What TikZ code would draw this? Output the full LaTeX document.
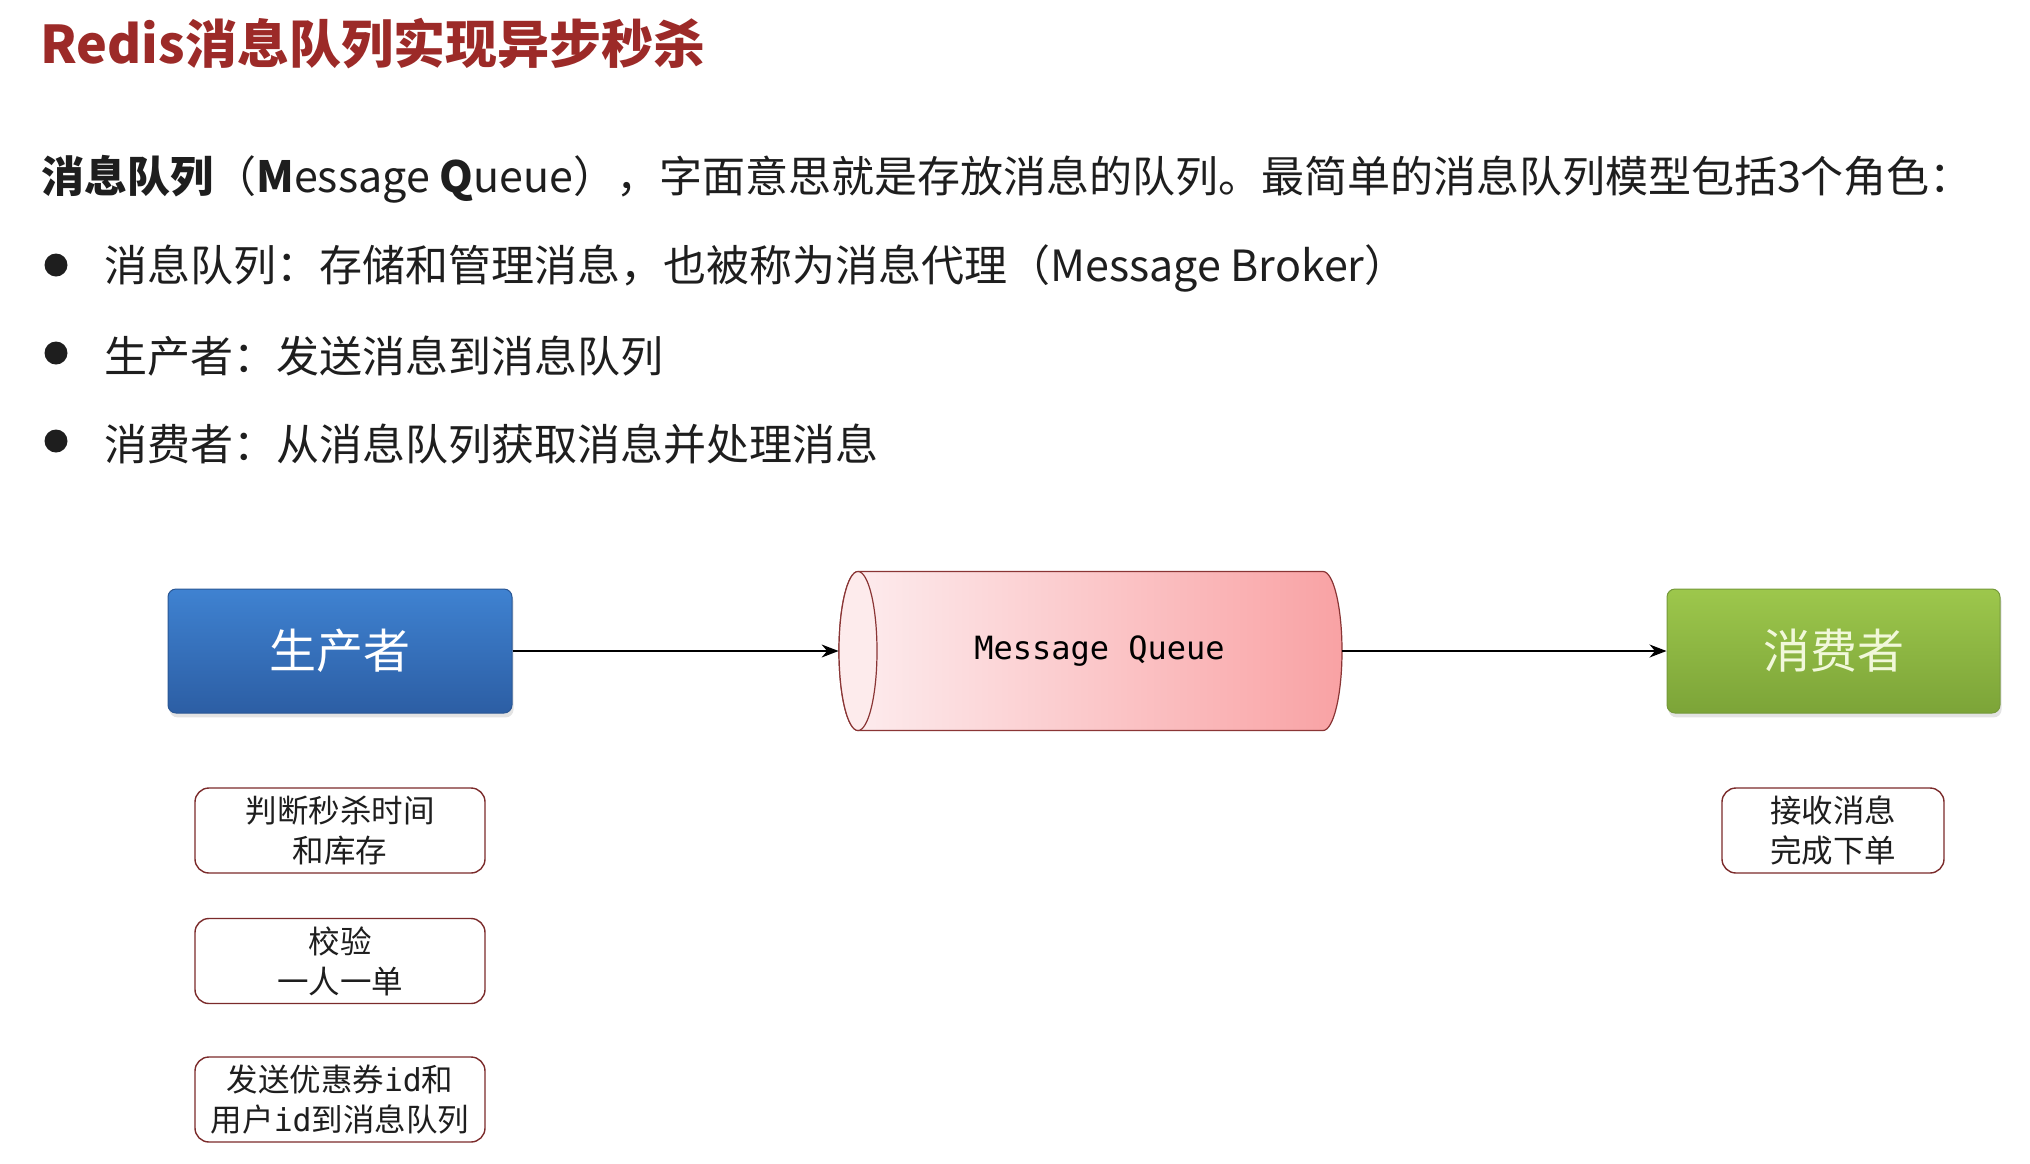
\documentclass[tikz,border=0pt]{standalone}
\usepackage{fontspec}
\setmainfont{Noto Sans CJK SC}
\newfontfamily\mqmono{DejaVu Sans Mono}
\usetikzlibrary{arrows.meta,shadows}
\definecolor{titlered}{HTML}{9C2A28}
\definecolor{bodytext}{HTML}{1E1E1E}
\definecolor{prodtop}{HTML}{3F82D1}
\definecolor{prodbot}{HTML}{2C5EA4}
\definecolor{prodborder}{HTML}{2A5794}
\definecolor{constop}{HTML}{9DC74C}
\definecolor{consbot}{HTML}{7CA438}
\definecolor{consborder}{HTML}{75993A}
\definecolor{constext}{HTML}{F1F8DA}
\definecolor{mqleft}{HTML}{FDEEF0}
\definecolor{mqright}{HTML}{F9A2A4}
\definecolor{mqend}{HTML}{FDEBEC}
\definecolor{mqborder}{HTML}{8A3535}
\definecolor{boxred}{HTML}{7B2B2B}
\tikzset{
  line1/.style={anchor=west, inner sep=0pt, text=bodytext, font=\fontsize{21.5}{26}\selectfont},
  bulletdot/.style={circle, fill=bodytext, minimum size=11.5pt, inner sep=0pt},
  rolebox/.style={rounded corners=4pt, minimum width=172pt, minimum height=62pt, inner sep=0pt,
    font=\fontsize{23.5}{28}\selectfont, line width=0.5pt,
    drop shadow={opacity=0.22, shadow xshift=0.8pt, shadow yshift=-2.2pt}},
  stepbox/.style={draw=boxred, line width=0.7pt, rounded corners=7pt, fill=white,
    minimum width=145pt, minimum height=42.5pt, inner sep=0pt, align=center,
    text=bodytext, font=\fontsize{15.75}{20}\selectfont},
  flowarrow/.style={-{Stealth[length=8.5pt,width=6.5pt]}, line width=0.7pt, black}
}
\begin{document}
\begin{tikzpicture}[x=0.5pt,y=-0.5pt]
\useasboundingbox[fill=white] (0,0) rectangle (2030,1163);

% title
\node[anchor=west, inner sep=0pt, text=titlered, font=\fontsize{26}{30}\bfseries] (title) at (40,44) {Redis消息队列实现异步秒杀};

% intro line
\node[line1] (intro) at (41,179) {\textbf{消息队列}（\textbf{M}essage \textbf{Q}ueue），字面意思就是存放消息的队列。最简单的消息队列模型包括3个角色：};

% bullets
\node[bulletdot] (d1) at (56,265) {};
\node[bulletdot] (d2) at (56,353) {};
\node[bulletdot] (d3) at (56,441) {};
\node[line1] (t1) at (104,268) {消息队列：存储和管理消息，也被称为消息代理（Message Broker）};
\node[line1] (t2) at (104,356) {生产者：发送消息到消息队列};
\node[line1] (t3) at (104,444) {消费者：从消息队列获取消息并处理消息};

% producer / consumer
\node[rolebox, draw=prodborder, top color=prodtop, bottom color=prodbot, text=white] (prod) at (340,651) {生产者};
\node[rolebox, minimum width=166.5pt, draw=consborder, top color=constop, bottom color=consbot, text=constext] (cons) at (1833.5,651) {消费者};

% message queue cylinder
\path[draw=mqborder, line width=0.6pt, left color=mqleft, right color=mqright]
  (858,571.5) -- (1323,571.5) arc[start angle=90, end angle=-90, x radius=9.5pt, y radius=39.75pt]
  -- (858,730.5) arc[start angle=270, end angle=90, x radius=9.5pt, y radius=39.75pt] -- cycle;
\draw[mqborder, line width=0.6pt, fill=mqend] (858,651) ellipse [x radius=9.5pt, y radius=39.75pt];
\node[minimum width=251.5pt, minimum height=79.5pt, inner sep=0pt, text=black, font=\mqmono\fontsize{16}{20}\selectfont] (mq) at (1090.5,651) {\hspace*{9pt}Message Queue};

\draw[flowarrow] (prod.east) -- (mq.west);
\draw[flowarrow] (mq.east) -- (cons.west);

% step boxes
\node[stepbox] (s1) at (340,830.5) {判断秒杀时间\\和库存};
\node[stepbox] (s2) at (340,961) {校验\\一人一单};
\node[stepbox] (s3) at (340,1099.5) {发送优惠券{\mqmono id}和\\用户{\mqmono id}到消息队列};
\node[stepbox, minimum width=111pt] (s4) at (1833,830.5) {接收消息\\完成下单};
\end{tikzpicture}
\end{document}
